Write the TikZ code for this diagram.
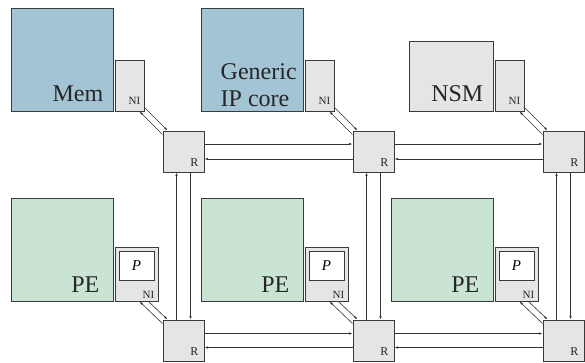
\documentclass[tikz,border=0pt]{standalone}
\usepackage{fontspec}
\setmainfont{Liberation Serif}
\newfontfamily\timesface{Liberation Serif}
\usetikzlibrary{arrows.meta}
\definecolor{coreblue}{HTML}{A3C4D4}
\definecolor{pegreen}{HTML}{C9E4D3}
\definecolor{nigrey}{HTML}{E4E5E6}
\definecolor{edge}{HTML}{3A3A3A}
\tikzset{
  blk/.style={draw=edge, line width=1pt, inner sep=0pt},
  nibox/.style={blk, fill=nigrey, minimum width=29pt, minimum height=51pt},
  penibox/.style={blk, fill=nigrey, minimum width=43pt, minimum height=54pt},
  pbox/.style={blk, fill=white, minimum width=35pt, minimum height=29pt, font=\timesface\fontsize{15}{15}\selectfont\itshape},
  rbox/.style={blk, fill=nigrey, minimum width=41pt, minimum height=41pt},
  big/.style={anchor=base east, font=\timesface\fontsize{24}{27}\selectfont, text=black!85, inner sep=0pt},
  small/.style={anchor=base east, font=\timesface\fontsize{11}{11}\selectfont, text=black!85, inner sep=0pt},
  lnk/.style={line width=0.6pt, draw=black!80, -{Latex[length=3.5pt,width=2.4pt]}}
}
\begin{document}
\begin{tikzpicture}[x=1pt,y=-1pt]
\useasboundingbox (0,0) rectangle (585,362);

% cores of the top row
\node [blk, fill=coreblue, minimum width=102pt, minimum height=103pt] (mem) at (62,59.5) {};
\node [blk, fill=coreblue, minimum width=102pt, minimum height=103pt] (gen) at (252,59.5) {};
\node [blk, fill=nigrey, minimum width=84pt, minimum height=70pt] (nsm) at (451,76) {};
\node [big] (memt) at ([shift={(-10,-10)}]mem.south east) {Mem};
\node [big, anchor=south west, align=left] (gent) at ([shift={(20,-5)}]gen.south west) {Generic\\IP core};
\node [big] (nsmt) at ([shift={(-10,-10)}]nsm.south east) {NSM};

% cores of the bottom row
\node [blk, fill=pegreen, minimum width=102pt, minimum height=103pt] (pe1) at (62,249.5) {};
\node [blk, fill=pegreen, minimum width=102pt, minimum height=103pt] (pe2) at (252,249.5) {};
\node [blk, fill=pegreen, minimum width=102pt, minimum height=103pt] (pe3) at (442,249.5) {};
\node [big] (pe1t) at ([shift={(-14,-9)}]pe1.south east) {PE};
\node [big] (pe2t) at ([shift={(-14,-9)}]pe2.south east) {PE};
\node [big] (pe3t) at ([shift={(-14,-9)}]pe3.south east) {PE};

% network interfaces
\node [nibox] (ni1) at (129.5,85.5) {};
\node [nibox] (ni2) at (319.5,85.5) {};
\node [nibox] (ni3) at (509.5,85.5) {};
\node [penibox] (ni4) at (136.5,274) {};
\node [penibox] (ni5) at (326.5,274) {};
\node [penibox] (ni6) at (516.5,274) {};
\node [pbox] (p4) at (136.5,265.5) {P};
\node [pbox] (p5) at (326.5,265.5) {P};
\node [pbox] (p6) at (516.5,265.5) {P};
\node [small] (ni1t) at ([shift={(-4,-7)}]ni1.south east) {NI};
\node [small] (ni2t) at ([shift={(-4,-7)}]ni2.south east) {NI};
\node [small] (ni3t) at ([shift={(-4,-7)}]ni3.south east) {NI};
\node [small] (ni4t) at ([shift={(-4,-3)}]ni4.south east) {NI};
\node [small] (ni5t) at ([shift={(-4,-3)}]ni5.south east) {NI};
\node [small] (ni6t) at ([shift={(-4,-3)}]ni6.south east) {NI};

% routers
\node [rbox] (r1) at (183.5,151.5) {};
\node [rbox] (r2) at (373.5,151.5) {};
\node [rbox] (r3) at (563.5,151.5) {};
\node [rbox] (r4) at (183.5,340.5) {};
\node [rbox] (r5) at (373.5,340.5) {};
\node [rbox] (r6) at (563.5,340.5) {};
\node [small, font=\timesface\fontsize{12}{12}\selectfont] (r1t) at ([shift={(-6,-6)}]r1.south east) {R};
\node [small, font=\timesface\fontsize{12}{12}\selectfont] (r2t) at ([shift={(-6,-6)}]r2.south east) {R};
\node [small, font=\timesface\fontsize{12}{12}\selectfont] (r3t) at ([shift={(-6,-6)}]r3.south east) {R};
\node [small, font=\timesface\fontsize{12}{12}\selectfont] (r4t) at ([shift={(-6,-6)}]r4.south east) {R};
\node [small, font=\timesface\fontsize{12}{12}\selectfont] (r5t) at ([shift={(-6,-6)}]r5.south east) {R};
\node [small, font=\timesface\fontsize{12}{12}\selectfont] (r6t) at ([shift={(-6,-6)}]r6.south east) {R};

% NI to router
\draw [lnk] ([yshift=-4pt]r1.north west) -- ([xshift=-5pt]ni1.south east);
\draw [lnk] ([yshift=4pt]ni1.south east) -- ([xshift=5pt]r1.north west);
\draw [lnk] ([yshift=-4pt]r2.north west) -- ([xshift=-5pt]ni2.south east);
\draw [lnk] ([yshift=4pt]ni2.south east) -- ([xshift=5pt]r2.north west);
\draw [lnk] ([yshift=-4pt]r3.north west) -- ([xshift=-5pt]ni3.south east);
\draw [lnk] ([yshift=4pt]ni3.south east) -- ([xshift=5pt]r3.north west);
\draw [lnk] ([yshift=-4pt]r4.north west) -- ([xshift=-19pt]ni4.south east);
\draw [lnk] ([xshift=-10pt]ni4.south east) -- ([xshift=5pt]r4.north west);
\draw [lnk] ([yshift=-4pt]r5.north west) -- ([xshift=-19pt]ni5.south east);
\draw [lnk] ([xshift=-10pt]ni5.south east) -- ([xshift=5pt]r5.north west);
\draw [lnk] ([yshift=-4pt]r6.north west) -- ([xshift=-19pt]ni6.south east);
\draw [lnk] ([xshift=-10pt]ni6.south east) -- ([xshift=5pt]r6.north west);

% router to router
\draw [lnk] ([yshift=7.5pt]r1.east) -- ([yshift=7.5pt]r2.west);
\draw [lnk] ([yshift=-7.5pt]r2.west) -- ([yshift=-7.5pt]r1.east);
\draw [lnk] ([yshift=7.5pt]r2.east) -- ([yshift=7.5pt]r3.west);
\draw [lnk] ([yshift=-7.5pt]r3.west) -- ([yshift=-7.5pt]r2.east);
\draw [lnk] ([yshift=7pt]r4.east) -- ([yshift=7pt]r5.west);
\draw [lnk] ([yshift=-7pt]r5.west) -- ([yshift=-7pt]r4.east);
\draw [lnk] ([yshift=7pt]r5.east) -- ([yshift=7pt]r6.west);
\draw [lnk] ([yshift=-7pt]r6.west) -- ([yshift=-7pt]r5.east);
\draw [lnk] ([xshift=-7pt]r4.north) -- ([xshift=-7pt]r1.south);
\draw [lnk] ([xshift=7pt]r1.south) -- ([xshift=7pt]r4.north);
\draw [lnk] ([xshift=-7pt]r5.north) -- ([xshift=-7pt]r2.south);
\draw [lnk] ([xshift=7pt]r2.south) -- ([xshift=7pt]r5.north);
\draw [lnk] ([xshift=-7pt]r6.north) -- ([xshift=-7pt]r3.south);
\draw [lnk] ([xshift=7pt]r3.south) -- ([xshift=7pt]r6.north);
\end{tikzpicture}
\end{document}
